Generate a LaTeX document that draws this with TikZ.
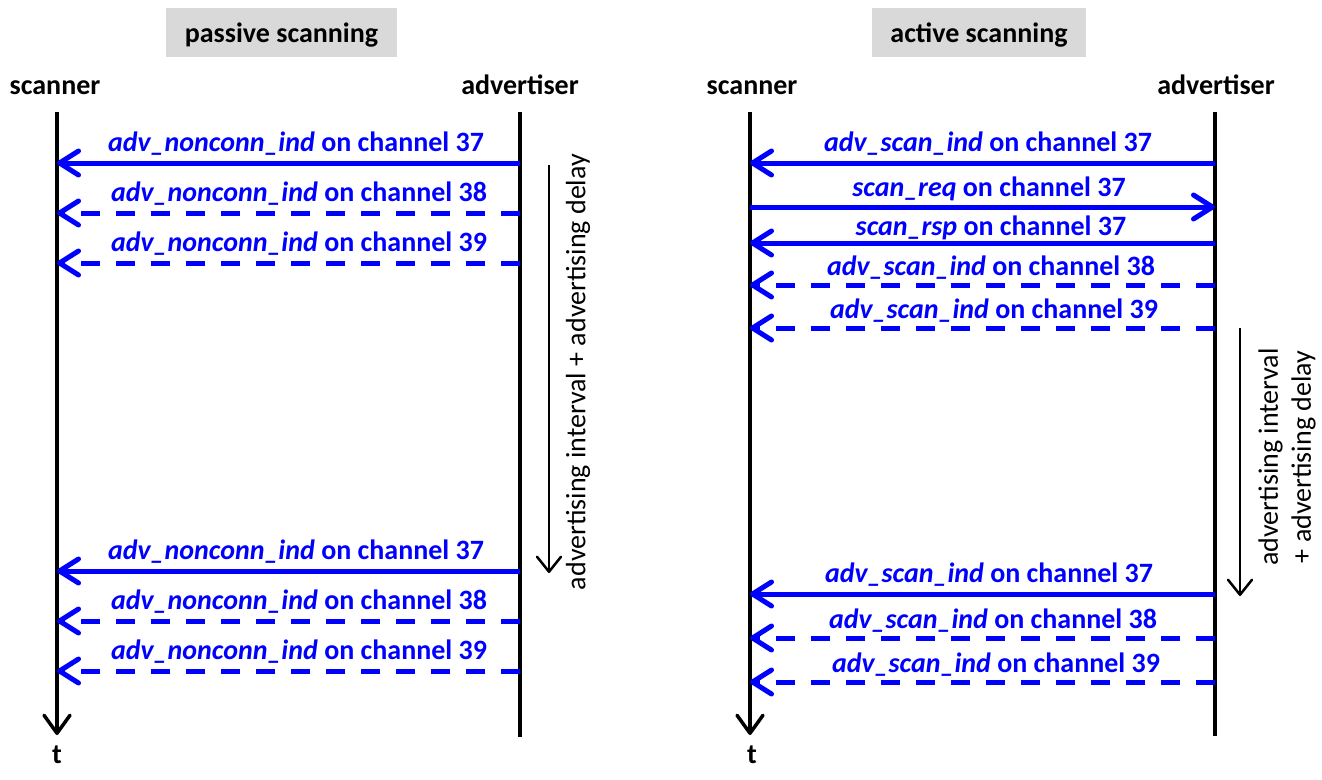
\documentclass[tikz,border=0pt]{standalone}
\usepackage{fontspec}
\setmainfont{Carlito}
\usetikzlibrary{arrows.meta}
\definecolor{boxgray}{HTML}{D9D9D9}
\definecolor{msgblue}{HTML}{0000FF}
\begin{document}
\begin{tikzpicture}[x=1pt,y=-1pt,
  big/.style={font=\fontsize{28}{34}\selectfont\bfseries},
  lbl/.style={big, text=black, inner sep=0pt, anchor=base},
  msg/.style={big, text=msgblue, inner sep=0pt, anchor=base},
  titlebox/.style={big, fill=boxgray, inner sep=0pt, minimum width=231pt, minimum height=49pt, text depth=0pt, text height=20pt},
  life/.style={line width=3.5pt, black},
  timeline/.style={life, -{Straight Barb[length=18pt,width=26pt,line width=3.5pt,round]}},
  sig/.style={line width=5pt, msgblue, -{Straight Barb[length=19pt,width=24pt,line width=5pt,round]}},
  dsig/.style={sig, dash pattern=on 19pt off 16pt},
  interval/.style={line width=2.5pt, black, -{Straight Barb[length=15pt,width=24pt,line width=2.5pt,round]}},
  vlbl/.style={font=\fontsize{28}{33}\selectfont, inner sep=0pt, rotate=90, align=center}
]
\useasboundingbox (0,0) rectangle (1322,779);

% ---------------- passive scanning ----------------
\node[titlebox] (T1) at (281.5,32.5) {passive scanning};
\node[lbl] (S1) at (55,94) {scanner};
\node[lbl] (A1) at (520,94) {advertiser};
\coordinate (S1top) at (57,112);
\coordinate (S1bot) at (57,735);
\coordinate (A1top) at (520,112);
\coordinate (A1bot) at (520,737);
\draw[timeline] (S1top) -- (S1bot);
\draw[life] (A1top) -- (A1bot);
\node[lbl] (t1) at (57,763) {t};

\foreach \y/\yb/\xc/\ch/\st [count=\i] in {163/151/296/37/sig, 213/201/299/38/dsig, 263/251/299/39/dsig, 571/559/296/37/sig, 621/609/299/38/dsig, 671/659/299/39/dsig}{
  \coordinate (pa\i) at (520,\y);
  \coordinate (ps\i) at (57,\y);
  \draw[\st] (pa\i) -- (ps\i);
  \node[msg] (pl\i) at (\xc,\yb) {\textit{adv\_nonconn\_ind} on channel \ch};
}

\coordinate (I1a) at (549,165);
\coordinate (I1b) at (549,573);
\draw[interval] (I1a) -- (I1b);
\node[vlbl] (D1) at (578,372) {advertising interval + advertising delay};

% ---------------- active scanning ----------------
\node[titlebox, minimum width=214pt] (T2) at (979,32.5) {active scanning};
\node[lbl] (S2) at (752,94) {scanner};
\node[lbl] (A2) at (1216,94) {advertiser};
\coordinate (S2top) at (750,112);
\coordinate (S2bot) at (750,735);
\coordinate (A2top) at (1215,112);
\coordinate (A2bot) at (1215,736);
\draw[timeline] (S2top) -- (S2bot);
\draw[life] (A2top) -- (A2bot);
\node[lbl] (t2) at (752,763) {t};

\coordinate (ra1) at (1215,163); \coordinate (rs1) at (750,163);
\draw[sig] (ra1) -- (rs1);
\node[msg] (rl1) at (988,151) {\textit{adv\_scan\_ind} on channel 37};

\coordinate (ra2) at (1215,207); \coordinate (rs2) at (750,207);
\draw[sig] (rs2) -- (ra2);
\node[msg] (rl2) at (989,196) {\textit{scan\_req} on channel 37};

\coordinate (ra3) at (1215,243); \coordinate (rs3) at (750,243);
\draw[sig] (ra3) -- (rs3);
\node[msg] (rl3) at (991,235) {\textit{scan\_rsp} on channel 37};

\coordinate (ra4) at (1215,285); \coordinate (rs4) at (750,285);
\draw[dsig] (ra4) -- (rs4);
\node[msg] (rl4) at (991,275) {\textit{adv\_scan\_ind} on channel 38};

\coordinate (ra5) at (1215,328); \coordinate (rs5) at (750,328);
\draw[dsig] (ra5) -- (rs5);
\node[msg] (rl5) at (994,318) {\textit{adv\_scan\_ind} on channel 39};

\coordinate (ra6) at (1215,594); \coordinate (rs6) at (750,594);
\draw[sig] (ra6) -- (rs6);
\node[msg] (rl6) at (989,582) {\textit{adv\_scan\_ind} on channel 37};

\coordinate (ra7) at (1215,638); \coordinate (rs7) at (750,638);
\draw[dsig] (ra7) -- (rs7);
\node[msg] (rl7) at (993,628) {\textit{adv\_scan\_ind} on channel 38};

\coordinate (ra8) at (1215,682); \coordinate (rs8) at (750,682);
\draw[dsig] (ra8) -- (rs8);
\node[msg] (rl8) at (996,672) {\textit{adv\_scan\_ind} on channel 39};

\coordinate (I2a) at (1240,328);
\coordinate (I2b) at (1240,596);
\draw[interval] (I2a) -- (I2b);
\node[vlbl] (D2) at (1287,457) {advertising interval\\+ advertising delay};

\end{tikzpicture}
\end{document}
